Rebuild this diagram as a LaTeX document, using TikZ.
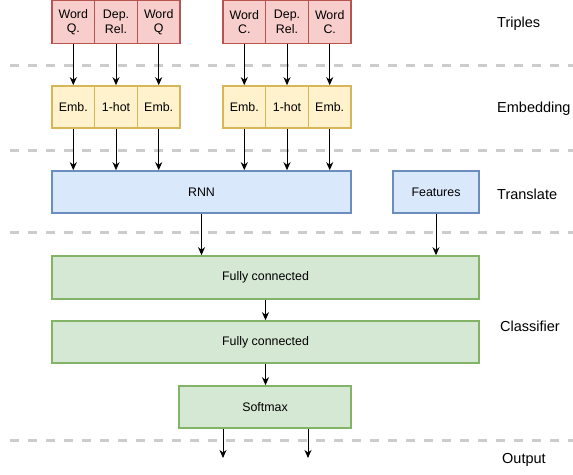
\documentclass[tikz,border=0pt]{standalone}
\usepackage{fontspec}
\setmainfont{Liberation Sans}
\usetikzlibrary{calc}
\usetikzlibrary{arrows.meta}

\definecolor{redfill}{HTML}{F8CECC}
\definecolor{redline}{HTML}{B85450}
\definecolor{yelfill}{HTML}{FFF2CC}
\definecolor{yelline}{HTML}{D6B656}
\definecolor{bluefill}{HTML}{DAE8FC}
\definecolor{blueline}{HTML}{6C8EBF}
\definecolor{grnfill}{HTML}{D5E8D4}
\definecolor{grnline}{HTML}{82B366}
\definecolor{sepgray}{HTML}{CCCCCC}

\tikzset{
  box/.style={draw,line width=1.6pt,inner sep=0pt,align=center,
    font=\fontsize{12.4}{14.5}\selectfont},
  triple/.style={box,fill=redfill,draw=redline,minimum width=42.7pt,minimum height=43pt},
  emb/.style={box,fill=yelfill,draw=yelline,minimum width=42.7pt,minimum height=42pt},
  trans/.style={box,fill=bluefill,draw=blueline,minimum height=42pt},
  clf/.style={box,fill=grnfill,draw=grnline,minimum height=42pt},
  arr/.style={black,line width=1pt,-{Stealth[length=8pt,width=7pt,inset=2.5pt]}},
  sep/.style={sepgray,line width=3pt,dash pattern=on 9pt off 9pt},
  layer/.style={anchor=west,inner sep=0pt,font=\fontsize{14.5}{16}\selectfont}
}

\begin{document}
\begin{tikzpicture} [x=1pt,y=-1pt]

\useasboundingbox (0,0) rectangle (573,474);

% separators between the layers
\foreach \y in {65,150,232,440}
  \draw[sep] (10,\y) -- (573,\y);

% triples
\node[triple] (wq1) at (73.3,22) {Word\\Q.};
\node[triple] (dr1) at (116,22) {Dep.\\Rel.};
\node[triple] (wq2) at (158.7,22) {Word\\Q};
\node[triple] (wc1) at (244.3,22) {Word\\C.};
\node[triple] (dr2) at (287,22) {Dep.\\Rel.};
\node[triple] (wc2) at (329.7,22) {Word\\C.};

% embeddings
\node[emb] (e1) at (73.3,107) {Emb.};
\node[emb] (h1) at (116,107) {1-hot};
\node[emb] (e2) at (158.7,107) {Emb.};
\node[emb] (e3) at (244.3,107) {Emb.};
\node[emb] (h2) at (287,107) {1-hot};
\node[emb] (e4) at (329.7,107) {Emb.};

% translate
\node[trans,minimum width=299pt] (rnn) at (201.5,192) {RNN};
\node[trans,minimum width=86pt] (feat) at (436,192) {Features};

% classifier
\node[clf,minimum width=427pt,minimum height=43pt] (fc1) at (265.5,277.5) {Fully connected};
\node[clf,minimum width=427pt] (fc2) at (265.5,342) {Fully connected};
\node[clf,minimum width=172pt] (soft) at (265,407) {Softmax};

\coordinate (o1) at (223,458);
\coordinate (o2) at (308,458);

\draw[arr] (wq1) -- (e1);
\draw[arr] (dr1) -- (h1);
\draw[arr] (wq2) -- (e2);
\draw[arr] (wc1) -- (e3);
\draw[arr] (dr2) -- (h2);
\draw[arr] (wc2) -- (e4);

\foreach \n in {e1,h1,e2,e3,h2,e4}
  \draw[arr] (\n.south) -- (\n.south |- rnn.north);

\draw[arr] (rnn.south) -- (rnn.south |- fc1.north);
\draw[arr] (feat.south) -- (feat.south |- fc1.north);
\draw[arr] (fc1) -- (fc2);
\draw[arr] (fc2.south) -- (fc2.south |- soft.north);
\draw[arr] (soft.south -| o1) -- (o1);
\draw[arr] (soft.south -| o2) -- (o2);

% layer names
\node[layer] (lt) at (497,24) {Triples};
\node[layer] (le) at (497,108.5) {Embedding};
\node[layer] (ltr) at (497,194) {Translate};
\node[layer] (lc) at (500,326) {Classifier};
\node[layer] (lo) at (502,460) {Output};

\end{tikzpicture}
\end{document}
